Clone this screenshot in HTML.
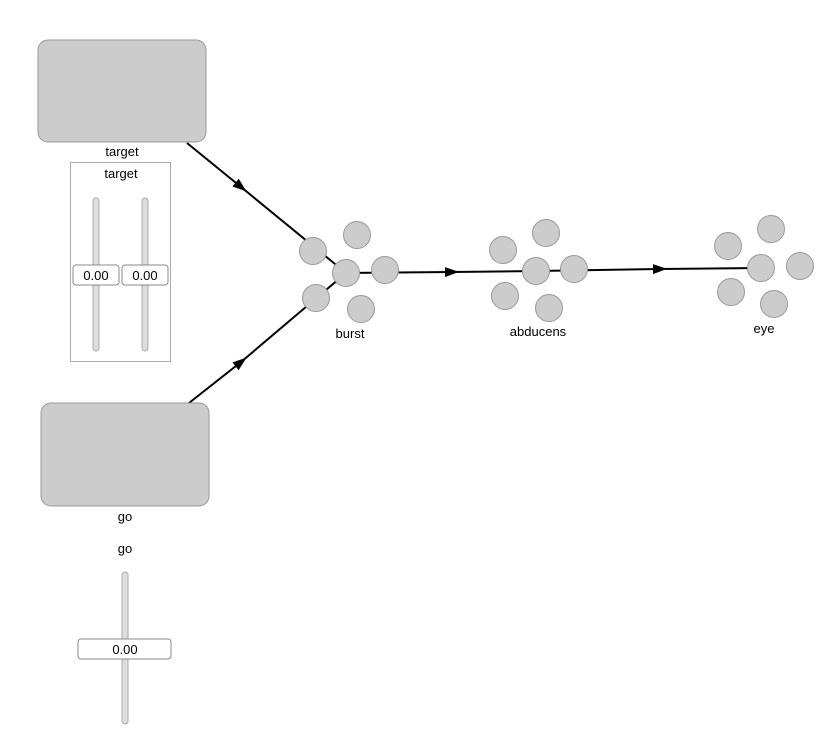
<!DOCTYPE html>
<html><head><meta charset="utf-8"><style>html,body{margin:0;padding:0;background:#fff}svg{display:block}text{font-family:"Liberation Sans",Arial,sans-serif;font-size:13px;fill:#000}</style></head><body>
<svg width="837" height="740" viewBox="0 0 837 740" xmlns="http://www.w3.org/2000/svg">
<defs><marker id="a" markerWidth="14" markerHeight="10" refX="7" refY="5" orient="auto" markerUnits="userSpaceOnUse"><path d="M0,0 L14,5 L0,10 z" fill="#000"/></marker></defs>
<g stroke="#000" stroke-width="2" fill="none">
<path d="M187,143 L241,187" marker-end="url(#a)"/><path d="M241,187 L346,273"/>
<path d="M189,403 L241,362" marker-end="url(#a)"/><path d="M241,362 L346,273"/>
<path d="M346,273 L452,272" marker-end="url(#a)"/><path d="M452,272 L536,271"/>
<path d="M536,271 L660,269" marker-end="url(#a)"/><path d="M660,269 L761,268"/>
</g>
<rect x="38" y="40" width="168" height="102" rx="10" fill="#cccccc" stroke="#999"/>
<text x="122" y="156" text-anchor="middle">target</text>
<rect x="70.5" y="162.5" width="100" height="199" fill="#fff" stroke="#aaa"/>
<text x="121" y="178" text-anchor="middle">target</text>
<rect x="93" y="198" width="6" height="153" rx="3" fill="#ddd" stroke="#aaa"/>
<rect x="142" y="198" width="6" height="153" rx="3" fill="#ddd" stroke="#aaa"/>
<rect x="73" y="265" width="46" height="20" rx="3" fill="#fff" stroke="#888"/>
<rect x="122" y="265" width="46" height="20" rx="3" fill="#fff" stroke="#888"/>
<text x="96" y="280" text-anchor="middle">0.00</text>
<text x="145" y="280" text-anchor="middle">0.00</text>
<rect x="41" y="403" width="168" height="103" rx="10" fill="#cccccc" stroke="#999"/>
<text x="125" y="521" text-anchor="middle">go</text>
<text x="125" y="553" text-anchor="middle">go</text>
<rect x="122" y="572" width="6" height="152" rx="3" fill="#ddd" stroke="#aaa"/>
<rect x="78" y="639" width="93" height="20" rx="3" fill="#fff" stroke="#888"/>
<text x="125" y="654" text-anchor="middle">0.00</text>
<g fill="#cccccc" stroke="#999">
<circle cx="313" cy="251" r="13.5"/><circle cx="357" cy="235" r="13.5"/><circle cx="346" cy="273" r="13.5"/><circle cx="385" cy="270" r="13.5"/><circle cx="316" cy="298" r="13.5"/><circle cx="361" cy="309" r="13.5"/>
<circle cx="503" cy="250" r="13.5"/><circle cx="546" cy="233" r="13.5"/><circle cx="536" cy="271" r="13.5"/><circle cx="574" cy="269" r="13.5"/><circle cx="505" cy="296" r="13.5"/><circle cx="549" cy="308" r="13.5"/>
<circle cx="728" cy="246" r="13.5"/><circle cx="771" cy="229" r="13.5"/><circle cx="761" cy="268" r="13.5"/><circle cx="800" cy="266" r="13.5"/><circle cx="731" cy="292" r="13.5"/><circle cx="774" cy="304" r="13.5"/>
</g>
<text x="350" y="338" text-anchor="middle">burst</text>
<text x="538" y="336" text-anchor="middle">abducens</text>
<text x="764" y="333" text-anchor="middle">eye</text>
</svg>
</body></html>
